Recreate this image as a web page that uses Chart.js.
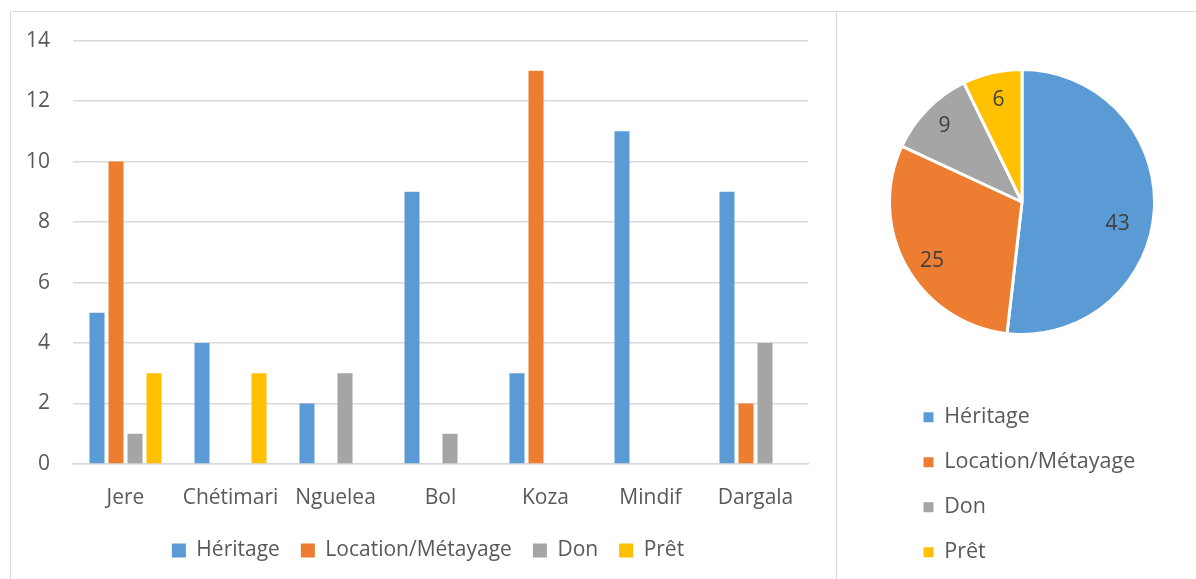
<!DOCTYPE html>
<html>
<head>
<meta charset="utf-8">
<script src="https://cdn.jsdelivr.net/npm/chart.js@4.4.0/dist/chart.umd.min.js"></script>
<style>
  html, body { margin: 0; padding: 0; width: 1196px; height: 579px; overflow: hidden; background: #fff; position: relative; }
  #panelL { position: absolute; left: 10px; top: 11px; width: 827px; height: 600px; border-left: 1.5px solid #d9d9d9; border-top: 1.5px solid #d9d9d9; border-right: 1.5px solid #d9d9d9; box-sizing: border-box; }
  #panelR { position: absolute; left: 836px; top: 11px; width: 400px; height: 600px; border-top: 1.5px solid #d9d9d9; box-sizing: border-box; }
  #barWrap { position: absolute; left: 10px; top: 5px; width: 826px; height: 574px; }
  #pieWrap { position: absolute; left: 838px; top: 12px; width: 358px; height: 342px; }
  #legWrap { position: absolute; left: 900px; top: 383px; width: 520px; height: 240px; }
</style>
</head>
<body>
<div id="panelL"></div>
<div id="panelR"></div>
<div id="barWrap"><canvas id="bar"></canvas></div>
<div id="pieWrap"><canvas id="pie"></canvas></div>
<div id="legWrap"><canvas id="leg"></canvas></div>
<script>
const categories = ["Jere", "Chétimari", "Nguelea", "Bol", "Koza", "Mindif", "Dargala"];
const seriesNames = ["Héritage", "Location/Métayage", "Don", "Prêt"];
const heritage = [5, 4, 2, 9, 3, 11, 9];
const location_ = [10, 0, 0, 0, 13, 0, 2];
const don = [1, 0, 3, 1, 0, 0, 4];
const pret = [3, 3, 0, 0, 0, 0, 0];
const pieValues = [43, 25, 9, 6];
const yTicks = [0, 2, 4, 6, 8, 10, 12, 14];

const colors = ["#5B9BD5", "#ED7D31", "#A5A5A5", "#FFC000"];
const textColor = "#595959";
const FONT = "'Open Sans', 'DejaVu Sans', sans-serif";

// shifts the bottom legend horizontally so it is centred in the panel
const shiftLegend = {
  id: 'shiftLegend',
  afterLayout(chart, args, opts) {
    const l = chart.legend;
    if (l) { l.left += opts.dx; l.right += opts.dx; }
  }
};

new Chart(document.getElementById('bar'), {
  type: 'bar',
  data: {
    labels: categories,
    datasets: [heritage, location_, don, pret].map((d, i) => ({
      label: seriesNames[i],
      data: d,
      backgroundColor: colors[i],
      borderWidth: 0,
      categoryPercentage: 0.724,
      barPercentage: 0.79
    }))
  },
  options: {
    responsive: true,
    maintainAspectRatio: false,
    animation: false,
    layout: { padding: { top: 0, left: 0, right: 28, bottom: 8 } },
    plugins: {
      legend: {
        position: 'bottom',
        labels: { color: textColor, font: { family: FONT, size: 21 }, boxWidth: 14, boxHeight: 14, padding: 21 }
      },
      shiftLegend: { dx: 19 },
      tooltip: { enabled: false }
    },
    scales: {
      x: {
        grid: { display: false, drawTicks: false },
        border: { display: true, color: '#d9d9d9', width: 1.5 },
        ticks: { color: textColor, font: { family: FONT, size: 21 }, padding: 21, maxRotation: 0 },
        afterFit: (s) => { s.height = 55; }
      },
      y: {
        min: 0, max: 14,
        afterBuildTicks: (s) => { s.ticks = yTicks.map(v => ({ value: v })); },
        grid: { color: '#d9d9d9', lineWidth: 1.5, drawTicks: false },
        border: { display: false },
        ticks: { color: textColor, font: { family: FONT, size: 21 }, padding: 23 },
        afterFit: (s) => { s.width = 63; }
      }
    }
  },
  plugins: [shiftLegend]
});

const pieLabelsPlugin = {
  id: 'pieLabels',
  afterDatasetsDraw(chart) {
    const ctx = chart.ctx;
    const meta = chart.getDatasetMeta(0);
    ctx.save();
    ctx.font = "21px " + FONT;
    ctx.fillStyle = "#404040";
    ctx.textAlign = 'center';
    ctx.textBaseline = 'middle';
    const fr = [0.74, 0.81, 0.82, 0.79];
    const da = [9.5, -3.8, 0, 0];
    meta.data.forEach((arc, i) => {
      const p = arc.getProps(['x', 'y', 'startAngle', 'endAngle', 'outerRadius']);
      const a = (p.startAngle + p.endAngle) / 2 + da[i] * Math.PI / 180;
      const r = p.outerRadius * fr[i];
      ctx.fillText(String(chart.data.datasets[0].data[i]), p.x + Math.cos(a) * r, p.y + Math.sin(a) * r);
    });
    ctx.restore();
  }
};

new Chart(document.getElementById('pie'), {
  type: 'pie',
  data: {
    labels: seriesNames,
    datasets: [{ data: pieValues, backgroundColor: colors, borderColor: '#ffffff', borderWidth: 3 }]
  },
  options: {
    responsive: true,
    maintainAspectRatio: false,
    animation: false,
    layout: { padding: { top: 56, bottom: 18, left: 10, right: 0 } },
    plugins: { legend: { display: false }, tooltip: { enabled: false } }
  },
  plugins: [pieLabelsPlugin]
});

// legend for the pie (same data arrays, slices not drawn)
new Chart(document.getElementById('leg'), {
  type: 'pie',
  data: {
    labels: seriesNames,
    datasets: [{ data: pieValues, backgroundColor: colors, borderWidth: 0, radius: 0 }]
  },
  options: {
    responsive: true,
    maintainAspectRatio: false,
    animation: false,
    layout: { padding: 0 },
    plugins: {
      legend: {
        position: 'left',
        align: 'start',
        labels: { color: textColor, font: { family: FONT, size: 21.5 }, boxWidth: 10, boxHeight: 10, padding: 23.5 }
      },
      tooltip: { enabled: false }
    }
  }
});
</script>
</body>
</html>
